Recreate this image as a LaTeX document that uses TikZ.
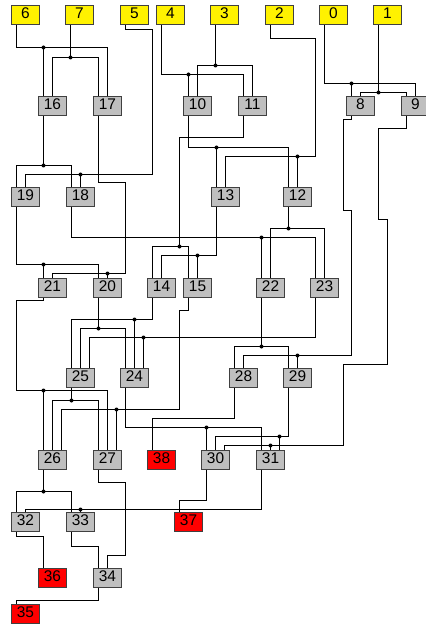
\documentclass[tikz,border=0pt]{standalone}
\usepackage{fontspec}
\setmainfont{Liberation Sans}

\begin{document}
\begin{tikzpicture}[
    x=1bp, y=-1bp,
    box/.style={draw=black!75, line width=1bp, minimum width=28bp,
                minimum height=19bp, inner sep=0pt, text height=11bp,
                text depth=4bp, font=\fontsize{15.5}{18}\selectfont},
    inbox/.style={box, fill=yellow},
    gate/.style={box, fill=black!25},
    outbox/.style={box, fill=red},
    wire/.style={line width=1.9bp}
  ]
  \useasboundingbox (0,0) rectangle (425,625);

  \node[inbox] (n6) at (25.5,15.5)  {6};
  \node[inbox] (n7) at (79.5,15.5)  {7};
  \node[inbox] (n5) at (134.5,15.5) {5};
  \node[inbox] (n4) at (170.5,15.5) {4};
  \node[inbox] (n3) at (224.5,15.5) {3};
  \node[inbox] (n2) at (279.5,15.5) {2};
  \node[inbox] (n0) at (333.5,15.5) {0};
  \node[inbox] (n1) at (387.5,15.5) {1};

  \node[gate] (n16) at (52.5,106)  {16};
  \node[gate] (n17) at (107.5,106) {17};
  \node[gate] (n10) at (197.5,106) {10};
  \node[gate] (n11) at (252.5,106) {11};
  \node[gate] (n8)  at (360.5,106) {8};
  \node[gate] (n9)  at (415.5,106) {9};

  \node[gate] (n19) at (25.5,196.5)  {19};
  \node[gate] (n18) at (80.5,196.5)  {18};
  \node[gate] (n13) at (225.5,196.5) {13};
  \node[gate] (n12) at (297.5,196.5) {12};

  \node[gate] (n21) at (52.5,287.5)  {21};
  \node[gate] (n20) at (107.5,287.5) {20};
  \node[gate] (n14) at (161.5,287.5) {14};
  \node[gate] (n15) at (197.5,287.5) {15};
  \node[gate] (n22) at (270.5,287.5) {22};
  \node[gate] (n23) at (324.5,287.5) {23};

  \node[gate] (n25) at (80.5,377.5)  {25};
  \node[gate] (n24) at (134.5,377.5) {24};
  \node[gate] (n28) at (243.5,377.5) {28};
  \node[gate] (n29) at (297.5,377.5) {29};

  \node[gate]   (n26) at (52.5,459.5)  {26};
  \node[gate]   (n27) at (107.5,459.5) {27};
  \node[outbox] (n38) at (161.5,459.5) {38};
  \node[gate]   (n30) at (215.5,459.5) {30};
  \node[gate]   (n31) at (270.5,459.5) {31};

  \node[gate]   (n32) at (25.5,522)  {32};
  \node[gate]   (n33) at (80.5,522)  {33};
  \node[outbox] (n37) at (188.5,522) {37};

  \node[outbox] (n36) at (52.5,577.5)  {36};
  \node[gate]   (n34) at (107.5,577.5) {34};

  \node[outbox] (n35) at (25.5,613.5) {35};

  % pins: output bottom left, inputs a/b/c along the top
  \foreach \n in {0,...,38} {
    \coordinate (n\n-o) at ([xshift=-9bp]n\n.south);
    \coordinate (n\n-a) at ([xshift=-9bp]n\n.north);
    \coordinate (n\n-b) at (n\n.north);
    \coordinate (n\n-c) at ([xshift=9bp]n\n.north);
  }

  \coordinate (j6)  at (n16-a |- 0,47.5);
  \coordinate (j7)  at (n7-o |- 0,57.5);
  \coordinate (j5)  at (n18-b |- 0,174.5);
  \coordinate (j4)  at (n10-a |- 0,74.5);
  \coordinate (j3)  at (n3-o |- 0,65.5);
  \coordinate (j2)  at (n12-b |- 0,156.5);
  \coordinate (j0)  at (n8-a |- 0,83.5);
  \coordinate (j1)  at (n1-o |- 0,92.5);
  \coordinate (j16) at (n16-o |- 0,165.5);
  \coordinate (j17) at (n20-b |- 0,273.5);
  \coordinate (j10) at (n13-a |- 0,147.5);
  \coordinate (j11) at (179.5,246.5);
  \coordinate (j19) at (n21-a |- 0,264.5);
  \coordinate (j18) at (n22-a |- 0,237.5);
  \coordinate (j13) at (n15-b |- 0,255.5);
  \coordinate (j12) at (n12-o |- 0,228.5);
  \coordinate (j8)  at (n29-b |- 0,355.5);
  \coordinate (j9)  at (n31-b |- 0,445.5);
  \coordinate (j21) at (n26-a |- 0,390.5);
  \coordinate (j20) at (n20-o |- 0,328.5);
  \coordinate (j14) at (n24-b |- 0,319.5);
  \coordinate (j15) at (n27-c |- 0,409.5);
  \coordinate (j22) at (n22-o |- 0,346.5);
  \coordinate (j23) at (n24-c |- 0,337.5);
  \coordinate (j25) at (n25-o |- 0,400.5);
  \coordinate (j24) at (n30-a |- 0,427.5);
  \coordinate (j29) at (n31-c |- 0,436.5);
  \coordinate (j26) at (n26-o |- 0,491.5);
  \coordinate (j31) at (n33-b |- 0,509.5);

  \draw[wire] (n6-o) |- (j6) -| (n17-b);
  \draw[wire] (j6) -- (n16-a);
  \draw[wire] (n7-o) -- (j7);
  \draw[wire] (n16-b) |- (j7) -| (n17-a);
  \draw[wire] (n5-o) |- (152.5,29.5) |- (j5) -| (n19-b);
  \draw[wire] (j5) -- (n18-b);
  \draw[wire] (n4-o) |- (j4) -| (n11-a);
  \draw[wire] (j4) -- (n10-a);
  \draw[wire] (n3-o) -- (j3);
  \draw[wire] (n10-b) |- (j3) -| (n11-b);
  \draw[wire] (n2-o) |- (315.5,38.5) |- (j2) -| (n13-b);
  \draw[wire] (j2) -- (n12-b);
  \draw[wire] (n0-o) |- (j0) -| (n9-b);
  \draw[wire] (j0) -- (n8-a);
  \draw[wire] (n1-o) -- (j1);
  \draw[wire] (n8-b) |- (j1) -| (n9-a);

  \draw[wire] (n16-o) -- (j16);
  \draw[wire] (n19-a) |- (j16) -| (n18-a);
  \draw[wire] (n17-o) |- (125.5,182.5) |- (j17) -| (n21-b);
  \draw[wire] (j17) -- (n20-b);
  \draw[wire] (n10-o) |- (j10) -| (n12-a);
  \draw[wire] (j10) -- (n13-a);
  \draw[wire] (n11-o) |- (j11 |- 0,137.5) -- (j11);
  \draw[wire] (n14-a) |- (j11) -| (n15-a);
  \draw[wire] (n8-o) |- (343.5,119.5) |- (351.5,210.5) |- (j8) -| (n28-b);
  \draw[wire] (j8) -- (n29-b);
  \draw[wire] (n9-o) |- (378.5,128.5) |- (387.5,219.5) |- (343.5,364.5)
                     |- (j9) -| (n30-c);
  \draw[wire] (j9) -- (n31-b);

  \draw[wire] (n19-o) |- (j19) -| (n20-a);
  \draw[wire] (j19) -- (n21-a);
  \draw[wire] (n18-o) |- (j18) -| (n23-a);
  \draw[wire] (j18) -- (n22-a);
  \draw[wire] (n13-o) |- (j13) -| (n14-b);
  \draw[wire] (j13) -- (n15-b);
  \draw[wire] (n12-o) -- (j12);
  \draw[wire] (n22-b) |- (j12) -| (n23-b);

  \draw[wire] (n21-o) |- (16.5,300.5) |- (j21) -| (n27-b);
  \draw[wire] (j21) -- (n26-a);
  \draw[wire] (n20-o) -- (j20);
  \draw[wire] (n25-b) |- (j20) -| (n24-a);
  \draw[wire] (n14-o) |- (j14) -| (n25-a);
  \draw[wire] (j14) -- (n24-b);
  \draw[wire] (n15-o) |- (179.5,310.5) |- (j15) -| (n26-c);
  \draw[wire] (j15) -- (n27-c);
  \draw[wire] (n22-o) -- (j22);
  \draw[wire] (n28-a) |- (j22) -| (n29-a);
  \draw[wire] (n23-o) |- (j23) -| (n25-c);
  \draw[wire] (j23) -- (n24-c);

  \draw[wire] (n25-o) -- (j25);
  \draw[wire] (n26-b) |- (j25) -| (n27-a);
  \draw[wire] (n24-o) |- (j24) -| (n31-a);
  \draw[wire] (j24) -- (n30-a);
  \draw[wire] (n28-o) |- (n38-a |- 0,418.5) -- (n38-a);
  \draw[wire] (n29-o) |- (j29) -| (n30-b);
  \draw[wire] (j29) -- (n31-c);

  \draw[wire] (n26-o) -- (j26);
  \draw[wire] (n32-a) |- (j26) -| (n33-a);
  \draw[wire] (n31-o) |- (j31) -| (n32-b);
  \draw[wire] (j31) -- (n33-b);
  \draw[wire] (n30-o) |- (n37-a |- 0,500.5) -- (n37-a);
  \draw[wire] (n27-o) |- (125.5,482.5) |- (n34-b |- 0,555.5) -- (n34-b);
  \draw[wire] (n32-o) |- (n36-a |- 0,536.5) -- (n36-a);
  \draw[wire] (n33-o) |- (n34-a |- 0,546.5) -- (n34-a);
  \draw[wire] (n34-o) |- (n35-a |- 0,600.5) -- (n35-a);

  \foreach \j in {6,7,5,4,3,2,0,1,16,17,10,11,19,18,13,12,8,9,
                  21,20,14,15,22,23,25,24,29,26,31}
    \fill (j\j) circle[radius=2];
\end{tikzpicture}
\end{document}
